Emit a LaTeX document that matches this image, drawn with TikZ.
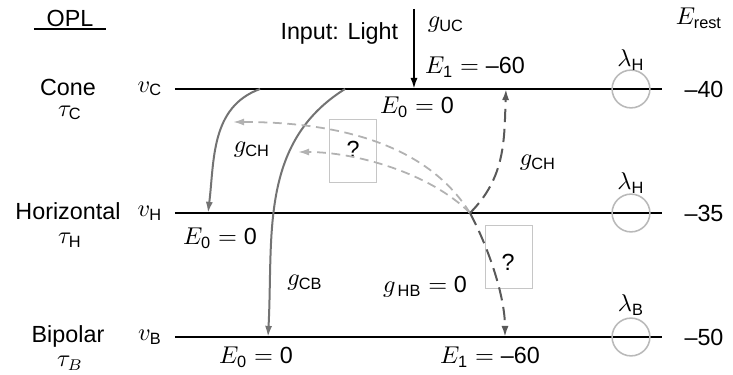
\documentclass[tikz,border=0pt]{standalone}
\usepackage{amsmath}
\usepackage{fontspec}
\setmainfont{Liberation Sans}
\usetikzlibrary{arrows.meta}

\begin{document}
\begin{tikzpicture}[x=0.45pt, y=0.45pt, >={Latex[length=5pt,width=3.2pt]},
  every node/.style={font=\fontsize{10.5}{12.6}\selectfont},
  tc/.style={inner sep=0.5pt},
  lvl/.style={line width=1.2pt},
  soma/.style={circle, draw=gray!55, line width=0.7pt, minimum size=17pt, inner sep=0pt},
  qbox/.style={draw=gray!45, line width=0.5pt, minimum width=21pt, minimum height=28pt, inner sep=0pt},
  cond/.style={->, gray!110, line width=0.9pt},
  light/.style={->, gray!60, line width=0.8pt, dash pattern=on 4pt off 2.5pt},
  dark/.style={->, black!65, line width=0.9pt, dash pattern=on 6pt off 3pt}]
\useasboundingbox (0,0) rectangle (733,375);

% --- Layer names and time constants ---
\node[inner xsep=5.5pt, inner ysep=1pt] (opl) at (70,357) {OPL};
\draw[lvl] (opl.south west) -- (opl.south east);
\node[tc] (cone) at (68,288) {Cone};
\node[tc] (tauC) at (70,262) {$\tau_{\mathrm{C}}$};
\node[tc] (horiz) at (68,164) {Horizontal};
\node[tc] (tauH) at (70,135) {$\tau_{\mathrm{H}}$};
\node[tc] (bip) at (68,39) {Bipolar};
\node[tc] (tauB) at (70,12) {$\tau_B$};
\node (Erest) at (699,357) {$E_{\mathrm{rest}}$};

% --- Potential lines ---
\foreach \n/\y/\s/\r/\lam/\ly in {C/286/C/--40/H/315, H/162/H/--35/H/192, B/38/B/--50/B/70} {
  \node (v\n) at (150,\y) {$v_{\mathrm{\s}}$};
  \coordinate (l\n) at (175,\y);
  \coordinate (r\n) at (662,\y);
  \draw[lvl] (l\n) -- (r\n);
  \node[soma] (s\n) at (631,\y) {};
  \node (lam\n) at (631,\ly) {$\lambda_{\mathrm{\lam}}$};
  \node (rest\n) at (704,\y) {\r};
}

% --- Input ---
\coordinate (inTop) at (414,366);
\coordinate (inC) at (414,286);
\draw[->, line width=0.9pt] (inTop) -- (inC);
\node[anchor=east] (input) at (406,342) {Input: Light};
\node[anchor=west] (gUC) at (420,350) {$g_{\mathrm{UC}}$};
\node (E1C) at (475,308) {$E_{\mathrm{1}} = \text{--60}$};
\node (E0C) at (417,268) {$E_{\mathrm{0}} = \mathrm{0}$};

% --- Feedforward cone -> horizontal, cone -> bipolar ---
\coordinate (cH) at (260,286);
\coordinate (hC) at (208,162);
\coordinate (cB) at (345,286);
\coordinate (bC) at (268,38);
\draw[cond] (cH) to[out=200, in=83] (hC);
\draw[cond] (cB) to[out=212, in=87] (bC);
\node (gCH) at (252,225) {$g_{\mathrm{CH}}$};
\node (E0H) at (220,137) {$E_{\mathrm{0}} = \mathrm{0}$};
\node (gCB) at (305,92) {$g_{\mathrm{CB}}$};
\node (E0B) at (256,18) {$E_{\mathrm{0}} = \mathrm{0}$};

% --- Unknown pathways (boxes) ---
\node[qbox] (q1) at (353,224) {};
\node (q1t) at (353,226) {?};
\node[qbox] (q2) at (509,118) {};
\node (q2t) at (508,113) {?};

% --- Feedback from horizontal ---
\coordinate (hx) at (470,162);
\coordinate (fbA) at (233,253);
\coordinate (fbB) at (298,223);
\coordinate (hCup) at (506,286);
\coordinate (hBdn) at (505,38);
\draw[light] (hx) to[out=122, in=0, looseness=0.9] (fbA);
\draw[light] (hx) to[out=135, in=0, looseness=0.8] (fbB);
\draw[dark] (hx) to[out=45, in=268] (hCup);
\draw[dark] (hx) to[out=-62, in=90, looseness=0.8] (hBdn);
\node (gCH2) at (538,212) {$g_{\mathrm{CH}}$};
\node (gHB) at (425,88) {$g_{\mathrm{\,HB}} = \mathrm{0}$};
\node (E1B) at (490,18) {$E_{\mathrm{1}} = \text{--60}$};
\end{tikzpicture}
\end{document}
